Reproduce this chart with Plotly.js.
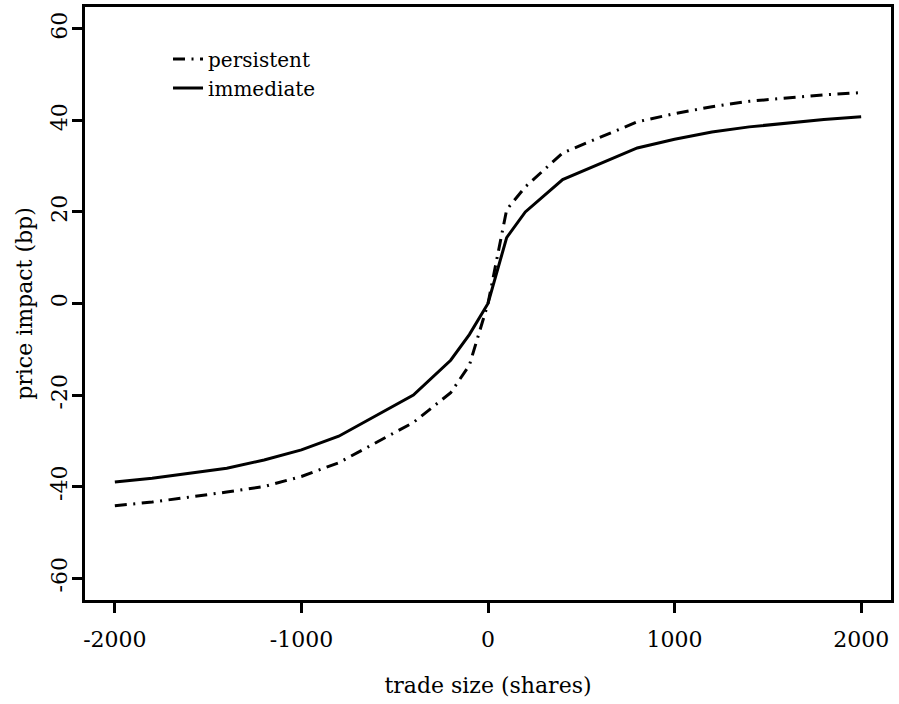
<!DOCTYPE html>
<html>
<head>
<meta charset="utf-8">
<script src="https://cdn.plot.ly/plotly-3.0.1.min.js"></script>
<style>html,body{margin:0;padding:0;background:#fff;}#chart{width:899px;height:704px;}</style>
</head>
<body>
<div id="chart"></div>
<script>
const tradeSize = [-2000, -1800, -1400, -1200, -1000, -800, -400, -200, -100, 0, 100, 200, 400, 800, 1000, 1200, 1400, 1800, 2000];
const persistent = [-44.2, -43.4, -41.2, -40.0, -37.8, -34.8, -26.0, -19.5, -13.5, 0, 20.5, 25.5, 32.9, 39.7, 41.5, 43.0, 44.2, 45.6, 46.1];
const immediate = [-39.0, -38.2, -36.0, -34.2, -32.0, -29.0, -20.0, -12.4, -6.8, 0, 14.4, 20.0, 27.1, 34.0, 35.9, 37.5, 38.6, 40.2, 40.8];
const xTicks = [-2000, -1000, 0, 1000, 2000];
const yTicks = [-60, -40, -20, 0, 20, 40, 60];
const seriesNames = ["persistent", "immediate"];

const FONT = "DejaVu Serif";

const traces = [
  {x: tradeSize, y: persistent, name: seriesNames[0], type: "scatter", mode: "lines",
   line: {color: "#000", width: 3, dash: "12px,6.5px,2px,6.5px"}},
  {x: tradeSize, y: immediate, name: seriesNames[1], type: "scatter", mode: "lines",
   line: {color: "#000", width: 3, dash: "solid"}}
];

const axisCommon = {
  showgrid: false, zeroline: false,
  showline: true, mirror: true, linecolor: "#000", linewidth: 3,
  ticks: "outside", ticklen: 10, tickwidth: 3, tickcolor: "#000",
  tickfont: {family: FONT, size: 22, color: "#000"},
  automargin: false
};

const layout = {
  width: 899, height: 704,
  margin: {l: 85, r: 8, t: 7, b: 104},
  paper_bgcolor: "#fff", plot_bgcolor: "#fff",
  font: {family: FONT, color: "#000"},
  showlegend: true,
  legend: {x: 0.103, y: 0.945, xanchor: "left", yanchor: "top",
           bgcolor: "rgba(0,0,0,0)", font: {family: FONT, size: 20, color: "#000"},
           tracegroupgap: 0},
  xaxis: Object.assign({}, axisCommon, {
    range: [-2160, 2160], tickmode: "array", tickvals: xTicks,
    ticktext: xTicks.map(String), ticklabelstandoff: 8,
    title: {text: "trade size (shares)", font: {family: FONT, size: 22, color: "#000"}, standoff: 27}
  }),
  yaxis: Object.assign({}, axisCommon, {
    range: [-64.8, 64.8], tickmode: "array", tickvals: yTicks,
    ticktext: yTicks.map(String), tickangle: -90, ticklabelstandoff: -4,
    title: {text: "price impact (bp)", font: {family: FONT, size: 22, color: "#000"}, standoff: 9}
  })
};

Plotly.newPlot("chart", traces, layout, {displayModeBar: false, staticPlot: true});
</script>
</body>
</html>
